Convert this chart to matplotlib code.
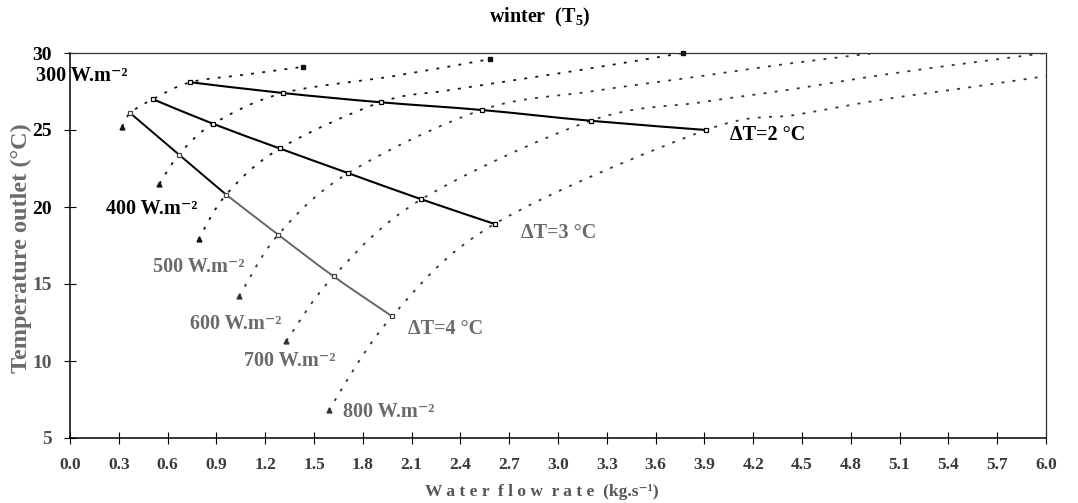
import numpy as np
import matplotlib
matplotlib.use("Agg")
import matplotlib.pyplot as plt
from matplotlib.path import Path
from matplotlib.patches import PathPatch

# ---- data -------------------------------------------------------------
flux_names = ["300", "400", "500", "600", "700", "800"]   # W.m-2

# lowest flow point of every flux curve
flow_start = [0.32, 0.55, 0.79, 1.04, 1.33, 1.59]
temp_start = [25.2, 21.5, 17.9, 14.2, 11.3, 6.8]

# constant temperature-rise lines (one point per flux curve)
flow_dt4 = [0.37, 0.67, 0.96, 1.28, 1.62, 1.98]
temp_dt4 = [26.1, 23.4, 20.8, 18.2, 15.5, 12.9]
flow_dt3 = [0.51, 0.88, 1.29, 1.71, 2.16, 2.61]
temp_dt3 = [27.0, 25.4, 23.8, 22.2, 20.5, 18.9]
flow_dt2 = [0.74, 1.31, 1.91, 2.53, 3.20, 3.91]
temp_dt2 = [28.1, 27.4, 26.8, 26.3, 25.6, 25.0]

# high flow part of every flux curve
tail_flow = [[1.08, 1.43],
             [1.99, 2.58],
             [2.34, 3.08, 3.77],
             [3.20, 3.88, 4.41, 4.95],
             [3.88, 4.41, 5.01, 5.56, 6.00],
             [4.47, 5.01, 5.55, 6.00]]
tail_temp = [[28.6, 29.1],
             [28.5, 29.6],
             [27.6, 28.8, 30.0],
             [27.5, 28.5, 29.3, 30.0],
             [26.8, 27.6, 28.6, 29.4, 30.0],
             [26.0, 27.0, 27.8, 28.5]]

x_ticks = np.round(np.arange(0, 6.01, 0.3), 1)
y_ticks = [5, 10, 15, 20, 25, 30]

# ---- style ------------------------------------------------------------
plt.rcParams["font.family"] = ["Liberation Serif", "DejaVu Serif"]
plt.rcParams["font.weight"] = "bold"
plt.rcParams["mathtext.fontset"] = "custom"
plt.rcParams["mathtext.rm"] = "Liberation Serif:bold"
plt.rcParams["mathtext.bf"] = "Liberation Serif:bold"
plt.rcParams["mathtext.it"] = "Liberation Serif:italic:bold"


def smooth_path(xs, ys):
    """Smoothed line through the points (Catmull-Rom as cubic Bezier)."""
    pts = np.column_stack([xs, ys]).astype(float)
    n = len(pts)
    verts = [pts[0]]
    codes = [Path.MOVETO]
    for i in range(n - 1):
        p0 = pts[i - 1] if i > 0 else pts[i]
        p1, p2 = pts[i], pts[i + 1]
        p3 = pts[i + 2] if i + 2 < n else pts[i + 1]
        verts += [p1 + (p2 - p0) / 6.0, p2 - (p3 - p1) / 6.0, p2]
        codes += [Path.CURVE4] * 3
    return Path(verts, codes)


W, H = 1078, 503
fig = plt.figure(figsize=(W / 100, H / 100), dpi=100)
ax = fig.add_axes([70 / W, 1 - 438 / H, (1046 - 70) / W, (438 - 53) / H])

ax.set_xlim(0, 6.0)
ax.set_ylim(5, 30)

# flux curves (dotted)
for i, name in enumerate(flux_names):
    xs = [flow_start[i], flow_dt4[i], flow_dt3[i], flow_dt2[i]] + tail_flow[i]
    ys = [temp_start[i], temp_dt4[i], temp_dt3[i], temp_dt2[i]] + tail_temp[i]
    col = "#111111" if i < 3 else "#333333"
    ax.add_patch(PathPatch(smooth_path(xs, ys), fill=False, edgecolor=col,
                           lw=1.3, linestyle=(0, (1.6, 4.6)), zorder=2))
    ax.plot(flow_start[i], temp_start[i], ls="none", marker="^", ms=3.5,
            color=col, zorder=3)
    if i < 3:
        ax.plot(tail_flow[i][-1], tail_temp[i][-1], ls="none", marker="s",
                ms=3.0, color=col, zorder=3, clip_on=False)

# constant temperature-rise lines (solid)
ax.add_patch(PathPatch(smooth_path(flow_dt2, temp_dt2), fill=False,
                       edgecolor="black", lw=1.5, zorder=3))
ax.add_patch(PathPatch(smooth_path(flow_dt3, temp_dt3), fill=False,
                       edgecolor="black", lw=1.5, zorder=3))
ax.add_patch(PathPatch(smooth_path(flow_dt4[:3], temp_dt4[:3]), fill=False,
                       edgecolor="black", lw=1.4, zorder=3))
ax.add_patch(PathPatch(smooth_path(flow_dt4[2:], temp_dt4[2:]), fill=False,
                       edgecolor="#666666", lw=1.4, zorder=3))
for fx, ty, c in ((flow_dt2, temp_dt2, "black"), (flow_dt3, temp_dt3, "black"),
                  (flow_dt4, temp_dt4, "#444444")):
    ax.plot(fx, ty, ls="none", marker="s", ms=3.2, mfc="white", mec=c,
            mew=0.9, zorder=4)

# curve labels
lab_kw = dict(fontsize=14.5, fontweight="bold", va="center", ha="left",
              clip_on=False, zorder=5)
flux_label_pos = [(-0.21, 28.5), (0.22, 19.9), (0.51, 16.1),
                  (0.74, 12.4), (1.07, 10.0), (1.68, 6.7)]
flux_label_col = ["black", "black", "#6a6a6a", "#6a6a6a", "#6a6a6a", "#6a6a6a"]
for name, (lx, ly), c in zip(flux_names, flux_label_pos, flux_label_col):
    ax.text(lx, ly, name + " W.m\u207b\u00b2", color=c, **lab_kw)

ax.text(4.06, 24.7, "\u0394T=2 \u00b0C", color="black", **lab_kw)
ax.text(2.77, 18.3, "\u0394T=3 \u00b0C", color="#6a6a6a", **lab_kw)
ax.text(2.08, 12.1, "\u0394T=4 \u00b0C", color="#6a6a6a", **lab_kw)

# axes, ticks
ax.set_xticks(x_ticks)
ax.set_xticklabels([f"{v:.1f}" for v in x_ticks])
ax.set_yticks(y_ticks)
ax.set_yticklabels([str(v) for v in y_ticks])
ax.tick_params(axis="both", direction="inout", length=8, width=0.8)
ax.tick_params(axis="x", labelsize=12.5, pad=10, labelcolor="#3a3a3a")
ax.tick_params(axis="y", labelsize=14, pad=9)
for lbl in ax.get_yticklabels():
    if float(lbl.get_text()) < 20:
        lbl.set_color("#555555")
for side in ("left", "bottom"):
    ax.spines[side].set_linewidth(1.1)
for side in ("top", "right"):
    ax.spines[side].set_linewidth(0.9)
    ax.spines[side].set_color("#333333")

fig.text(540 / W, 1 - 17 / H, r"winter  (T$_5$)", ha="center", va="center",
         fontsize=14.5, fontweight="bold")
fig.text(21 / W, 1 - 248 / H, "Temperature outlet (\u00b0C)",
         rotation=90, ha="center", va="center", fontsize=17.5,
         fontweight="bold", color="#6a6a6a")
fig.text(542 / W, 1 - 492 / H, "W a t e r  f l o w  r a t e  (kg.s\u207b\u00b9)",
         ha="center", va="center", fontsize=12.5, fontweight="bold",
         color="#555555")

fig.savefig("out.png", dpi=100, facecolor="white")
